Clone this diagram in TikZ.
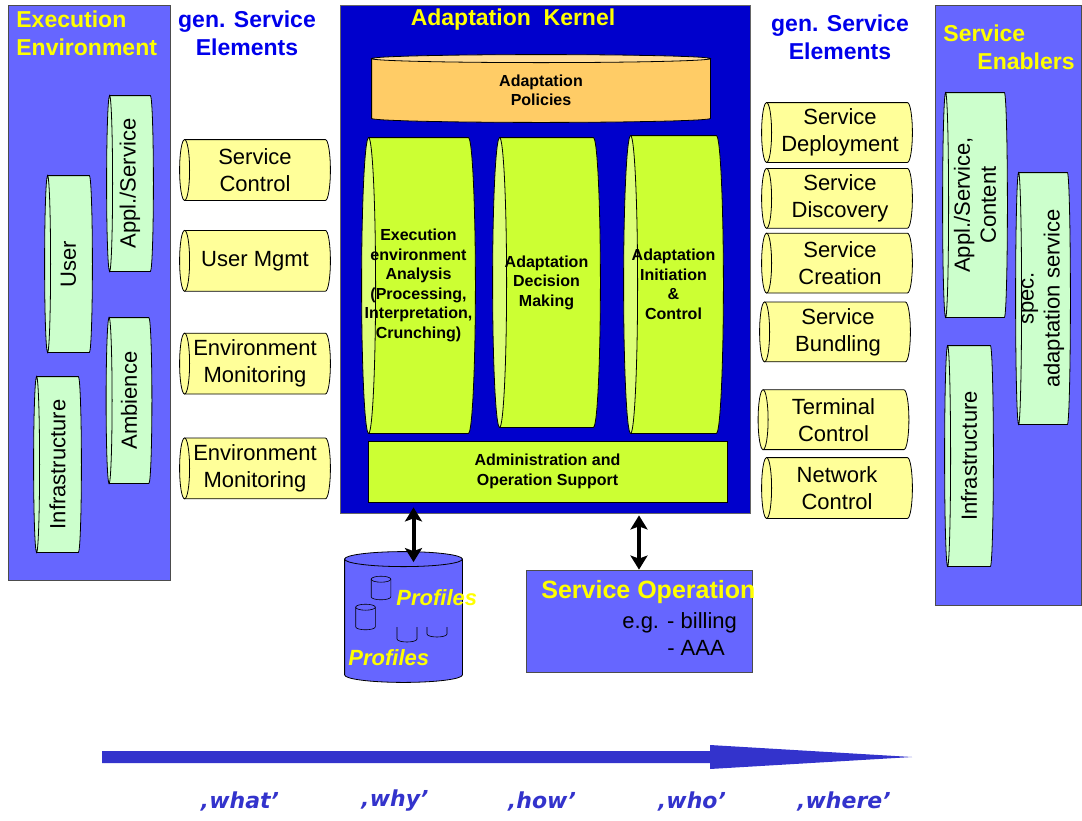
\documentclass[tikz,border=0pt]{standalone}
\usepackage{fontspec}
\setmainfont{Liberation Sans}
\newfontfamily\askfont{DejaVu Sans}
\usetikzlibrary{positioning}
\usetikzlibrary{calc}
\usetikzlibrary{arrows.meta}
\definecolor{panelblue}{RGB}{102,102,255}
\definecolor{kernelblue}{RGB}{0,0,204}
\definecolor{headblue}{RGB}{0,0,235}
\definecolor{titleyellow}{RGB}{255,255,0}
\definecolor{ycylfill}{RGB}{255,255,153}
\definecolor{gcylfill}{RGB}{204,255,204}
\definecolor{kcylfill}{RGB}{204,255,51}
\definecolor{kcylend}{RGB}{221,255,119}
\definecolor{polfill}{RGB}{255,204,102}
\definecolor{polend}{RGB}{255,221,153}
\definecolor{axisblue}{RGB}{51,51,204}

% cylinder lying on its side, open end to the left
% #1 body fill, #2 end fill, #3 name, #4 placement, #5 width, #6 height, #7 end radius
\newcommand{\hcyl}[7]{%
  \node[#4, minimum width=#5-2*#7, minimum height=#6, inner sep=0] (#3) {};
  \path[draw, fill=#1] let \p1=(#3.north west), \p2=(#3.south east), \n1={(\y1-\y2)/2} in
    (\p1) -- (\x2,\y1) arc[start angle=90, end angle=-90, x radius=#7pt, y radius=\n1] -- (\x1,\y2) -- cycle;
  \path[draw, fill=#2] let \p1=(#3.north), \p2=(#3.south), \n1={(\y1-\y2)/2} in
    (#3.west) ellipse[x radius=#7pt, y radius=\n1];
}
% standing cylinder, open end on top
\newcommand{\vcyl}[7]{%
  \node[#4, minimum width=#5, minimum height=#6-2*#7, inner sep=0] (#3) {};
  \path[draw, fill=#1] let \p1=(#3.north west), \p2=(#3.south east), \n1={(\x2-\x1)/2} in
    (\p1) -- (\x1,\y2) arc[start angle=180, end angle=360, x radius=\n1, y radius=#7pt] -- (\x2,\y1) -- cycle;
  \path[draw, fill=#2] let \p1=(#3.west), \p2=(#3.east), \n1={(\x2-\x1)/2} in
    (#3.north) ellipse[x radius=\n1, y radius=#7pt];
}

\tikzset{
  panel/.style={draw=black!70, fill=panelblue, inner sep=0},
  ptitle/.style={text=titleyellow, font=\fontsize{23}{28}\selectfont\bfseries, align=left, inner sep=0},
  gtitle/.style={text=headblue, font=\fontsize{23}{28}\selectfont\bfseries, align=center, inner sep=0},
  ytext/.style={align=center, inner sep=0, font=\fontsize{22}{27}\selectfont},
  gtext/.style={align=center, inner sep=0, rotate=90, font=\fontsize{22}{26}\selectfont},
  ktext/.style={align=center, font=\fontsize{16}{19.5}\selectfont\bfseries, inner sep=0},
  proftext/.style={text=titleyellow, font=\fontsize{22}{26}\selectfont\bfseries\itshape, inner sep=0, anchor=west},
  biarrow/.style={{Stealth[length=14pt,width=17pt,inset=3pt]}-{Stealth[length=14pt,width=17pt,inset=3pt]}, line width=4},
  askq/.style={text=axisblue, font=\askfont\fontsize{22}{26}\selectfont\bfseries\itshape},
}

\begin{document}
\begin{tikzpicture}[x=1pt, y=-1pt, line width=0.8pt]
  \useasboundingbox (0,0) rectangle (1082,820);

  % panels %
  \node[panel, minimum width=162, minimum height=575] (execenv) at (89,292.5) {};
  \node[panel, minimum width=146, minimum height=600] (enablers) at (1008,305) {};
  \node[draw=black!60, fill=kernelblue, minimum width=410, minimum height=508, inner sep=0] (kernel) at (545,259) {};

  % titles %
  \node[ptitle, anchor=west] (exectitle) at (16,33) {Execution\\Environment};
  \node[gtitle] (genleft) at (247,33) {gen. Service\\Elements};
  \node[gtitle] (genright) at (840,37) {gen. Service\\Elements};
  \node[ptitle] (kerneltitle) at (513,20) {Adaptation~~Kernel};
  \node[ptitle, anchor=west] (enabtitle) at (943,47) {Service\\\hspace*{34pt}Enablers};

  % execution environment %
  \hcyl{gcylfill}{gcylfill}{appl}{at={(130,183.5)}}{46}{175}{3}
  \node[gtext] (appltext) at (appl) {Appl./Service};
  \hcyl{gcylfill}{gcylfill}{user}{at={(68.5,264)}}{47}{176}{3}
  \node[gtext] (usertext) at (user) {User};
  \hcyl{gcylfill}{gcylfill}{ambience}{at={(129,400.5)}}{45}{165}{3}
  \node[gtext] (ambiencetext) at (ambience) {Ambience};
  \hcyl{gcylfill}{gcylfill}{infra}{at={(57.5,464.5)}}{47}{175}{3}
  \node[gtext] (infratext) at (infra) {Infrastructure};

  % generic service elements, left %
  \hcyl{ycylfill}{ycylfill}{svcctl}{at={(255,170)}}{150}{60}{5}
  \node[ytext] (svcctltext) at (svcctl) {Service\\Control};
  \hcyl{ycylfill}{ycylfill}{usermgmt}{below=30pt of svcctl}{150}{60}{5}
  \node[ytext] (usermgmttext) at (usermgmt) {User Mgmt};
  \hcyl{ycylfill}{ycylfill}{envmon}{below=42pt of usermgmt}{150}{60}{5}
  \node[ytext] (envmontext) at (envmon) {Environment\\Monitoring};
  \hcyl{ycylfill}{ycylfill}{envmontwo}{below=44pt of envmon}{150}{60}{5}
  \node[ytext] (envmontwotext) at (envmontwo) {Environment\\Monitoring};

  % adaptation kernel %
  \vcyl{polfill}{polend}{policies}{at={(541,88.5)}}{338}{67}{4}
  \node[ktext] (policiestext) at ([yshift=-2pt]policies) {Adaptation\\Policies};
  \hcyl{kcylfill}{kcylend}{analysis}{at={(418.5,285.5)}}{113}{295}{7}
  \node[ktext] (analysistext) at (analysis) {Execution\\environment\\Analysis\\(Processing,\\Interpretation,\\Crunching)};
  \hcyl{kcylfill}{kcylend}{decision}{at={(546.5,282.5)}}{107}{289}{7}
  \node[ktext] (decisiontext) at (decision) {Adaptation\\Decision\\Making};
  \hcyl{kcylfill}{kcylend}{initiation}{at={(673.5,284.5)}}{99}{297}{7}
  \node[ktext] (initiationtext) at (initiation) {Adaptation\\Initiation\\\&\\Control};
  \node[draw, fill=kcylfill, minimum width=359, minimum height=61, ktext] (admin) at (547.5,471.5) {Administration and\\Operation Support};

  % generic service elements, right %
  \hcyl{ycylfill}{ycylfill}{sdeploy}{at={(837,132.5)}}{150}{59}{5}
  \node[ytext] (sdeploytext) at ([xshift=3pt]sdeploy) {Service\\Deployment};
  \hcyl{ycylfill}{ycylfill}{sdiscover}{below=6pt of sdeploy}{150}{59}{5}
  \node[ytext] (sdiscovertext) at ([xshift=3pt]sdiscover) {Service\\Discovery};
  \hcyl{ycylfill}{ycylfill}{screate}{below=5pt of sdiscover}{150}{59}{5}
  \node[ytext] (screatetext) at ([xshift=3pt]screate) {Service\\Creation};
  \hcyl{ycylfill}{ycylfill}{sbundle}{below=9pt of screate, xshift=-2pt}{150}{59}{5}
  \node[ytext] (sbundletext) at ([xshift=3pt]sbundle) {Service\\Bundling};
  \hcyl{ycylfill}{ycylfill}{termctl}{below=28pt of sbundle, xshift=-1.5pt}{150}{59}{5}
  \node[ytext] (termctltext) at (termctl) {Terminal\\Control};
  \hcyl{ycylfill}{ycylfill}{netctl}{below=8pt of termctl, xshift=3.5pt}{150}{60}{5}
  \node[ytext] (netctltext) at (netctl) {Network\\Control};

  % service enablers %
  \hcyl{gcylfill}{gcylfill}{applcontent}{at={(975,205)}}{64}{224}{3}
  \node[gtext] (applcontenttext) at (applcontent) {Appl./Service,\\Content};
  \hcyl{gcylfill}{gcylfill}{specadapt}{at={(1043,298.5)}}{54}{251}{3}
  \node[gtext] (specadapttext) at (specadapt) {spec.\\adaptation service};
  \hcyl{gcylfill}{gcylfill}{infratwo}{at={(969,456)}}{48}{220}{3}
  \node[gtext] (infratwotext) at (infratwo) {Infrastructure};

  % profiles %
  \vcyl{panelblue}{panelblue}{db}{at={(403.5,617)}}{117}{130}{7.5}
  \begin{scope}[line width=0.6pt]
    \vcyl{panelblue}{panelblue}{dbone}{at={(381,588)}}{19}{23}{3}
    \vcyl{panelblue}{panelblue}{dbtwo}{at={(365.5,617)}}{19}{25}{3}
    \draw (397,627) -- (397,639) arc[start angle=180, end angle=360, x radius=10pt, y radius=3pt] -- (417,627);
    \draw (427,627) -- (427,634) arc[start angle=180, end angle=360, x radius=10pt, y radius=3pt] -- (447,627);
  \end{scope}
  \node[proftext] (profone) at (396,598) {Profiles};
  \node[proftext] (proftwo) at (348,658) {Profiles};

  % service operation %
  \node[panel, minimum width=226, minimum height=102] (svcop) at (639,621) {};
  \node[text=titleyellow, font=\fontsize{25}{30}\selectfont\bfseries, anchor=west, inner sep=0] (svcoptitle) at (541,592) {Service Operation};
  \node[font=\fontsize{22}{27}\selectfont, align=left, anchor=west, inner sep=0] (svcopnote) at (622,636) {e.g. - billing\\\phantom{e.g. }- AAA};

  % edges %
  \draw[biarrow] ([xshift=10pt,yshift=-5pt]admin.south -| db.north) -- ([xshift=10pt,yshift=-3pt]db.north);
  \draw[biarrow] ([yshift=-2pt]kernel.south -| svcop.north) -- (svcop.north);

  % what why how who where %
  \coordinate (axstart) at (102,757);
  \coordinate (axhead) at (710,757);
  \coordinate (axend) at (912,757);
  \fill[axisblue] ([yshift=6pt]axstart) -- ([yshift=6pt]axhead) -- ([yshift=12pt]axhead) -- (axend)
    -- ([yshift=-12pt]axhead) -- ([yshift=-6pt]axhead) -- ([yshift=-6pt]axstart) -- cycle;
  \node[askq] (qwhat) at (240,801) {‚what’};
  \node[askq] (qwhy) at (395,801) {‚why’};
  \node[askq] (qhow) at (542,801) {‚how’};
  \node[askq] (qwho) at (692,801) {‚who’};
  \node[askq] (qwhere) at (844,801) {‚where’};
\end{tikzpicture}
\end{document}
